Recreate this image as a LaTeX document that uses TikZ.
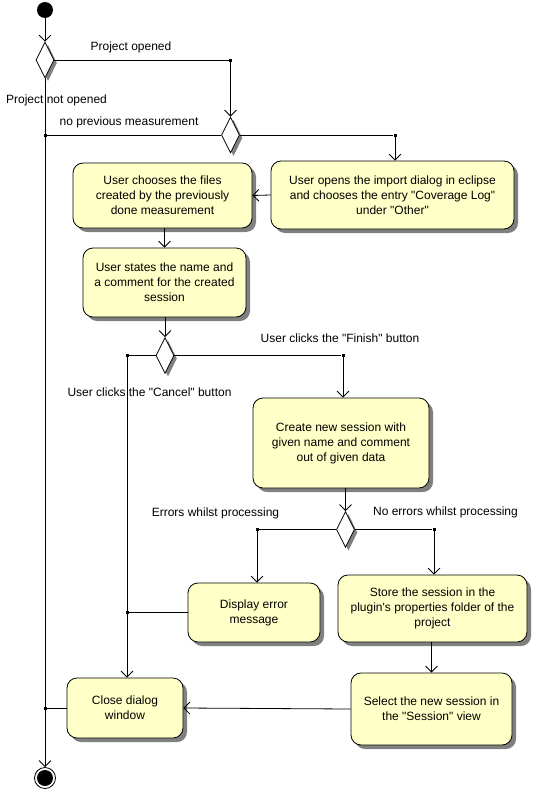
\documentclass[tikz,border=0pt]{standalone}
\usepackage{fontspec}
\setmainfont{Liberation Sans}[Ligatures=TeXOff]
\usetikzlibrary{positioning,shapes.geometric,arrows.meta,shadows}

\definecolor{actfill}{RGB}{255,255,200}
\definecolor{shade}{RGB}{128,128,128}

\tikzset{
  activity/.style={draw, fill=actfill, rounded corners=10pt, align=center,
    inner sep=0pt, font=\fontsize{12}{15}\selectfont,
    drop shadow={shadow xshift=4pt, shadow yshift=-4pt, fill=shade, opacity=1}},
  decision/.style={draw, diamond, fill=white, inner sep=0pt,
    minimum width=18pt, minimum height=36pt,
    drop shadow={shadow xshift=3pt, shadow yshift=-3pt, fill=shade, opacity=1}},
  flow/.style={-{Straight Barb[length=6pt,width=12pt]}},
  guard/.style={font=\fontsize{12}{15}\selectfont, inner sep=0pt},
  junction/.style={fill, inner sep=0pt, minimum size=3pt}
}

\begin{document}
\begin{tikzpicture}[x=1pt, y=-1pt, line width=0.8pt]
\useasboundingbox (0,0) rectangle (542,803);

% start and end
\node[circle, fill, inner sep=0pt, minimum size=16pt] (start) at (45,10) {};
\node[circle, draw, inner sep=0pt, minimum size=21pt] (final) at (45,778) {};
\fill (final) circle (8pt);

% decisions
\node[decision] (opened) at (45,60) {};
\node[decision] (previous) at (230.5,135) {};
\node[decision] (button) at (165,355.5) {};
\node[decision] (errors) at (345.5,529.5) {};

% activities
\node[activity, minimum width=243pt, minimum height=68pt] (import) at (392.5,195)
  {User opens the import dialog in eclipse\\and chooses the entry "Coverage Log"\\under "Other"};
\node[activity, minimum width=179pt, minimum height=65pt] (files) at (162.5,195.5)
  {User chooses the files\\created by the previously\\done measurement};
\node[activity, minimum width=163pt, minimum height=69pt] (name) at (164.5,282.5)
  {User states the name and\\a comment for the created\\session};
\node[activity, minimum width=176pt, minimum height=90pt] (create) at (341,443)
  {Create new session with\\given name and comment\\out of given data};
\node[activity, minimum width=132pt, minimum height=59pt] (display) at (254,612.5)
  {Display error\\message};
\node[activity, minimum width=189pt, minimum height=67pt] (store) at (432.5,608.5)
  {Store the session in the\\plugin's properties folder of the\\project};
\node[activity, minimum width=161pt, minimum height=72pt] (select) at (431.5,709)
  {Select the new session in\\the "Session" view};
\node[activity, minimum width=116pt, minimum height=60pt] (close) at (125,708)
  {Close dialog\\window};

% junctions
\node[junction] (jopened) at (230.5,60) {};
\node[junction] (jnoprev) at (45,135) {};
\node[junction] (jimport) at (395,135) {};
\node[junction] (jcancel) at (127,355.5) {};
\node[junction] (jfinish) at (343,355.5) {};
\node[junction] (jerror) at (257,529.5) {};
\node[junction] (jok) at (434,529.5) {};
\node[junction] (jdisplay) at (127,612.5) {};
\node[junction] (jclose) at (45,708) {};

% flows
\draw[flow] (start) -- (opened.north);
\draw (opened.east) -- (jopened);
\draw[flow] (jopened) -- (previous.north);
\draw[flow] (opened.south) -- (final.north);
\draw (previous.west) -- (jnoprev);
\draw (previous.east) -- (jimport);
\draw[flow] (jimport) -- (jimport |- import.north);
\draw[flow] (import.west) -- (files.east);
\draw[flow] (files.south -| name.north) -- (name.north);
\draw[flow] (name.south -| button.north) -- (button.north);
\draw (button.west) -- (jcancel);
\draw[flow] (jcancel) -- (jcancel |- close.north);
\draw (button.east) -- (jfinish);
\draw[flow] (jfinish) -- (jfinish |- create.north);
\draw[flow] (create.south -| errors.north) -- (errors.north);
\draw (errors.west) -- (jerror);
\draw[flow] (jerror) -- (jerror |- display.north);
\draw (errors.east) -- (jok);
\draw[flow] (jok) -- (jok |- store.north);
\draw (display.west) -- (jdisplay);
\draw[flow] (store.south -| select.north) -- (select.north);
\draw[flow] (select.west) -- (close.east);
\draw (close.west) -- (jclose);

% guards
\node[guard] (lopened) at (131,47) {Project opened};
\node[guard] (lnotopened) at (56.5,100) {Project not opened};
\node[guard] (lnoprev) at (129,122) {no previous measurement};
\node[guard] (lfinish) at (340,338) {User clicks the "Finish" button};
\node[guard] (lcancel) at (149.5,392) {User clicks the "Cancel" button};
\node[guard] (lerror) at (215.5,513) {Errors whilst processing};
\node[guard] (lok) at (445.5,512) {No errors whilst processing};

\end{tikzpicture}
\end{document}
